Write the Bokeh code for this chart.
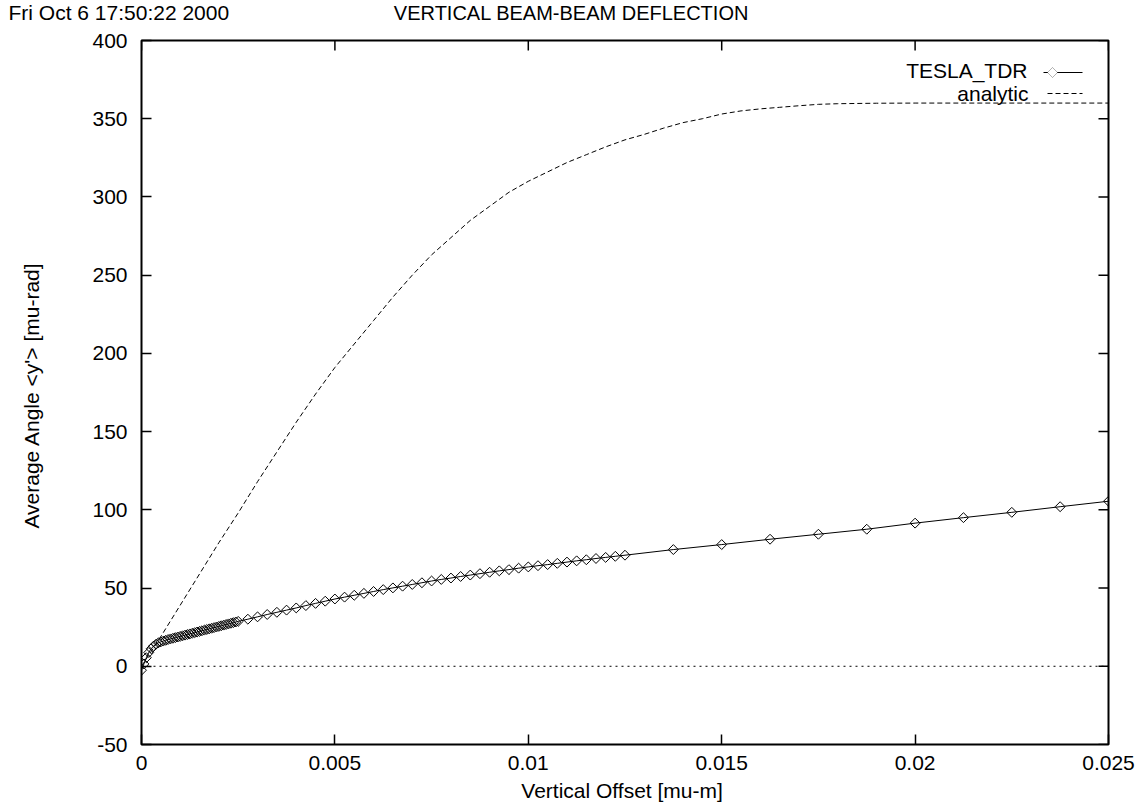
import math
from bokeh.plotting import figure
from bokeh.layouts import column
from bokeh.models import (FixedTicker, Label, Span, Arrow, PolyAnnotation, Range1d)
from bokeh.embed import file_html
from bokeh.resources import INLINE

# ---------------- data ----------------
tesla_x = [
    0.0, 0.0000625, 0.000125, 0.0001875, 0.00025, 0.0003125, 0.000375, 0.0004375,
    0.0005, 0.0005625, 0.000625, 0.0006875, 0.00075, 0.0008125, 0.000875, 0.0009375,
    0.001, 0.0010625, 0.001125, 0.0011875, 0.00125, 0.0013125, 0.001375, 0.0014375,
    0.0015, 0.0015625, 0.001625, 0.0016875, 0.00175, 0.0018125, 0.001875, 0.0019375,
    0.002, 0.0020625, 0.002125, 0.0021875, 0.00225, 0.0023125, 0.002375, 0.0024375,
    0.0025,
    0.00275, 0.003, 0.00325, 0.0035, 0.00375, 0.004, 0.00425, 0.0045, 0.00475, 0.005,
    0.00525, 0.0055, 0.00575, 0.006, 0.00625, 0.0065, 0.00675, 0.007, 0.00725, 0.0075,
    0.00775, 0.008, 0.00825, 0.0085, 0.00875, 0.009, 0.00925, 0.0095, 0.00975, 0.01,
    0.01025, 0.0105, 0.01075, 0.011, 0.01125, 0.0115, 0.01175, 0.012, 0.01225, 0.0125,
    0.01375, 0.015, 0.01625, 0.0175, 0.01875, 0.02, 0.02125, 0.0225, 0.02375, 0.025,
]
tesla_y = [
    -2.5, 1.5, 5.5, 8.8, 11.2, 12.9, 14.1, 15.0,
    15.6, 16.1, 16.6, 17.1, 17.5, 17.9, 18.3, 18.7,
    19.1, 19.5, 19.9, 20.3, 20.7, 21.1, 21.5, 21.9,
    22.3, 22.7, 23.1, 23.5, 23.9, 24.3, 24.7, 25.1,
    25.5, 25.9, 26.3, 26.7, 27.1, 27.5, 27.9, 28.3,
    28.7,
    30.1, 31.6, 33.1, 34.5, 35.9, 37.3, 38.8, 40.2, 41.6, 43.0,
    44.2, 45.4, 46.6, 47.8, 49.0, 50.1, 51.2, 52.3, 53.4, 54.5,
    55.5, 56.4, 57.4, 58.3, 59.2, 60.1, 61.0, 61.8, 62.7, 63.5,
    64.3, 65.0, 65.8, 66.6, 67.4, 68.1, 68.9, 69.6, 70.3, 71.0,
    74.6, 77.8, 81.2, 84.4, 87.6, 91.5, 95.0, 98.4, 102.0, 105.5,
]

analytic_x = [
    0.0, 0.0005, 0.001, 0.0015, 0.002, 0.0025, 0.003, 0.0035, 0.004, 0.0045,
    0.005, 0.0055, 0.006, 0.0065, 0.007, 0.0075, 0.008, 0.0085, 0.009, 0.0095,
    0.01, 0.0105, 0.011, 0.0115, 0.012, 0.0125, 0.013, 0.0135, 0.014, 0.0145,
    0.015, 0.0155, 0.016, 0.0165, 0.017, 0.0175, 0.018,
    0.019, 0.02, 0.021, 0.022, 0.023, 0.024, 0.025,
]
analytic_y = [
    0, 19, 39, 59, 79, 98, 118, 137, 156, 174,
    191, 206, 221, 236, 250, 263, 274, 285, 294, 303,
    310, 316, 322, 327, 332, 336.5, 340, 344, 347.5, 350,
    353, 355, 356.3, 357.3, 358.3, 359.2, 359.6,
    359.9, 360, 360, 360, 360, 360, 360,
]

x_min, x_max = 0.0, 0.025
y_min, y_max = -50, 400
x_ticks = [0, 0.005, 0.01, 0.015, 0.02, 0.025]
x_tick_labels = ["0", "0.005", "0.01", "0.015", "0.02", "0.025"]
y_ticks = [-50, 0, 50, 100, 150, 200, 250, 300, 350, 400]
y_tick_labels = ["-50", "0", "50", "100", "150", "200", "250", "300", "350", "400"]

series_names = ["TESLA_TDR", "analytic"]
title_text = "VERTICAL BEAM-BEAM DEFLECTION"
date_text = "Fri Oct  6 17:50:22 2000"
x_label = "Vertical Offset  [mu-m]"
y_label = "Average Angle <y'>  [mu-rad]"

FONT = "Liberation Sans"
FS = "21px"

def make_label(fig, text, x, y, align="left", baseline="middle", size=FS):
    fig.add_layout(Label(x=x, y=y, x_units="screen", y_units="screen", text=text,
                         text_align=align, text_baseline=baseline,
                         text_font=FONT, text_font_size=size, text_color="black"))

# ---------------- header strip (date + title) ----------------
head = figure(width=1141, height=26, output_backend="svg", toolbar_location=None,
              x_range=Range1d(0, 1), y_range=Range1d(0, 1),
              x_axis_location=None, y_axis_location=None,
              min_border=0, min_border_left=0, min_border_right=0,
              min_border_top=0, min_border_bottom=0)
head.frame_align = False
head.title.visible = False
head.grid.visible = False
head.outline_line_color = None
head.background_fill_color = "white"
head.border_fill_color = "white"
make_label(head, date_text, 8, 14)
make_label(head, title_text, 571, 14, align="center", size="20px")

# ---------------- main plot ----------------
p = figure(width=1141, height=778, output_backend="svg", toolbar_location=None,
           x_range=Range1d(x_min, x_max), y_range=Range1d(y_min, y_max),
           min_border_left=141, min_border_right=33,
           min_border_top=14, min_border_bottom=60)
p.frame_align = False
p.title.visible = False
p.grid.visible = False
p.outline_line_color = "black"
p.outline_line_width = 2
p.background_fill_color = "white"
p.border_fill_color = "white"

def style_axis(ax, ticks, labels, standoff):
    ax.ticker = FixedTicker(ticks=ticks)
    ax.major_label_overrides = dict(zip(ticks, labels))
    ax.axis_line_color = None
    ax.major_tick_in = 10
    ax.major_tick_out = 0
    ax.major_tick_line_color = "black"
    ax.major_tick_line_width = 1.5
    ax.minor_tick_line_color = None
    ax.major_label_text_font = FONT
    ax.major_label_text_color = "black"
    ax.major_label_text_font_size = FS
    ax.major_label_standoff = standoff
    ax.axis_label_text_font = FONT
    ax.axis_label_text_font_size = FS
    ax.axis_label_text_font_style = "normal"
    ax.axis_label_text_color = "black"

style_axis(p.xaxis[0], x_ticks, x_tick_labels, 11)
p.xaxis[0].axis_label = x_label
p.xaxis[0].axis_label_standoff = 6
style_axis(p.yaxis[0], y_ticks, y_tick_labels, 14)
p.yaxis[0].axis_label = y_label
p.yaxis[0].axis_label_standoff = 46

# mirrored inward ticks on the top and right edges
p.ray(x=x_ticks, y=[y_max] * len(x_ticks), length=10, length_units="screen",
      angle=-math.pi / 2, line_color="black", line_width=1.5)
p.ray(x=[x_max] * len(y_ticks), y=y_ticks, length=10, length_units="screen",
      angle=math.pi, line_color="black", line_width=1.5)

# zero axis
p.add_layout(Span(location=0, dimension="width", line_color="black",
                  line_width=1, line_dash="2 4"))

# series
p.line(tesla_x, tesla_y, line_color="black", line_width=1)
p.scatter(tesla_x, tesla_y, marker="square", angle=math.pi / 4, size=7,
          line_color="black", fill_color=None, line_width=1)
p.line(analytic_x, analytic_y, line_color="black", line_width=1, line_dash="5 3")

# legend (gnuplot style: text then sample); screen units relative to the frame
make_label(p, series_names[0], 886, 674, align="right")
make_label(p, series_names[1], 887, 651, align="right")
p.add_layout(Arrow(start=None, end=None, x_start=902, y_start=672, x_end=941, y_end=672,
                   start_units="screen", end_units="screen",
                   line_color="black", line_width=1))
p.add_layout(PolyAnnotation(xs=[906, 911, 916, 911], ys=[672, 677, 672, 667],
                            xs_units="screen", ys_units="screen",
                            fill_color="white", fill_alpha=1.0,
                            line_color="black", line_width=1))
p.add_layout(Arrow(start=None, end=None, x_start=906, y_start=651, x_end=941, y_end=651,
                   start_units="screen", end_units="screen",
                   line_color="black", line_width=1, line_dash="5 3"))

layout = column(head, p, spacing=0)
open("out.html", "w").write(file_html(layout, INLINE))
